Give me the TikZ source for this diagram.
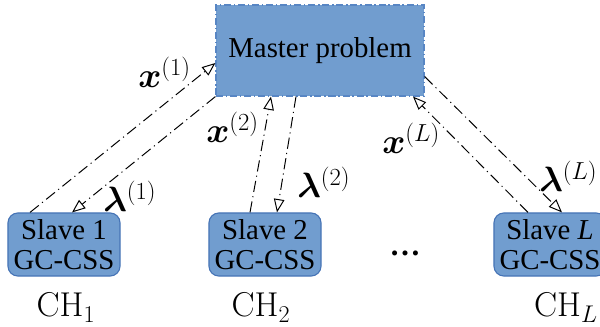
\documentclass[tikz,border=0pt]{standalone}
\usepackage{fix-cm}
\usepackage{amsmath,amssymb,bm}
\usepackage{fontspec}
\newfontfamily\boxfont{Liberation Serif}
\usepackage{tikz}
\usetikzlibrary{arrows.meta,positioning,calc}
\definecolor{boxblue}{RGB}{113,157,207}
\definecolor{edgeblue}{RGB}{70,116,182}
\definecolor{masteredge}{RGB}{88,134,196}
\tikzset{
  masterbox/.style={draw=masteredge, line width=0.8pt, dash pattern=on 5pt off 2pt on 1pt off 2pt,
    fill=boxblue, minimum width=5.2cm, minimum height=2.275cm, inner sep=1pt,
    font=\boxfont\fontsize{20.5}{22}\selectfont},
  slavebox/.style={draw=edgeblue, line width=0.8pt, rounded corners=7pt, fill=boxblue,
    align=center, minimum width=2.8cm, minimum height=1.575cm, inner sep=1pt,
    font=\boxfont\fontsize{20.5}{21.3}\selectfont},
  link/.style={line width=0.7pt, dash pattern=on 8pt off 3pt on 0.8pt off 3pt,
    -{Triangle[open,length=9.5pt,width=7.5pt]}},
  lbl/.style={inner sep=0pt, anchor=base west, font=\fontsize{25}{27}\selectfont},
  chlbl/.style={inner sep=0pt, anchor=base, font=\fontsize{24.5}{27}\selectfont}
}

\begin{document}
\begin{tikzpicture}[x=0.025cm, y=-0.025cm]
  \useasboundingbox (0,0) rectangle (600,327);

  \node[masterbox] (master) at (320,50.5) {Master problem};
  \node[slavebox] (slave1) at (64,244.5) {Slave 1\\GC-CSS};
  \node[slavebox] (slave2) at (265,244.5) {Slave 2\\GC-CSS};
  \node[slavebox] (slaveL) at (550,244.5) {Slave \textit{L}\\GC-CSS};
  \node[inner sep=0pt, anchor=base, font=\boxfont\bfseries\fontsize{22}{22}\selectfont] (dots) at (405,256) {…};

  \node[chlbl] (ch1) at (66,317) {$\mathrm{CH}_1$};
  \node[chlbl] (ch2) at (261,317) {$\mathrm{CH}_2$};
  \node[chlbl] (chL) at (566,317) {$\mathrm{CH}_L$};

  \draw[link] ($(slave1.north)+(-34,0)$) -- ($(master.west)+(0,12.5)$);
  \draw[link] (master.south west) -- ($(slave1.north)+(8,0)$);
  \draw[link] ($(slave2.north)+(-15,0)$) -- ($(master.south)+(-49,0)$);
  \draw[link] ($(master.south)+(-24,0)$) -- ($(slave2.north)+(12,0)$);
  \draw[link] ($(slaveL.north)+(-22,0)$) -- ($(master.south)+(93,0)$);
  \draw[link] ($(master.east)+(0,26)$) -- ($(slaveL.north)+(12,0)$);

  \node[lbl] (x1) at (138,88) {$\boldsymbol{x}^{(1)}$};
  \node[lbl] (lam1) at (103,212) {$\boldsymbol{\lambda}^{(1)}$};
  \node[lbl] (x2) at (206,143) {$\boldsymbol{x}^{(2)}$};
  \node[lbl] (lam2) at (297,198) {$\boldsymbol{\lambda}^{(2)}$};
  \node[lbl] (xL) at (382,154) {$\boldsymbol{x}^{(L)}$};
  \node[lbl] (lamL) at (539,192) {$\boldsymbol{\lambda}^{(L)}$};
\end{tikzpicture}
\end{document}
